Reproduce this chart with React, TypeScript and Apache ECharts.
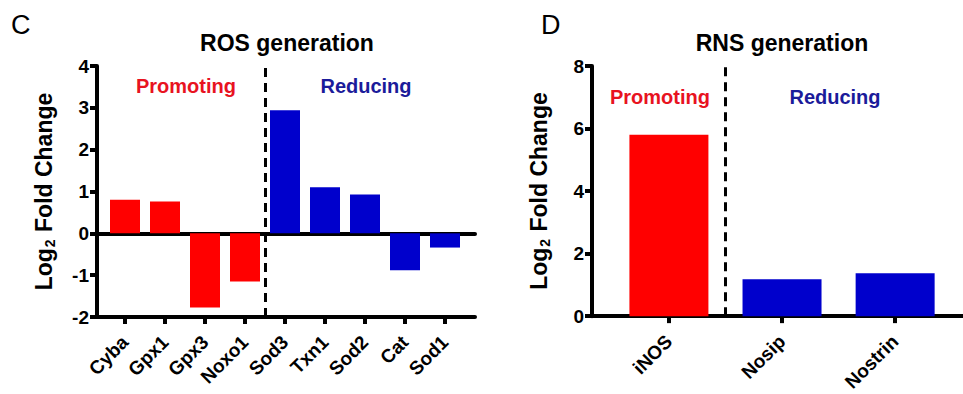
import React, { useEffect, useRef } from "react";
import * as echarts from "echarts";

const rosGenes = ["Cyba", "Gpx1", "Gpx3", "Noxo1", "Sod3", "Txn1", "Sod2", "Cat", "Sod1"];
const rosValues = [0.8, 0.76, -1.77, -1.15, 2.94, 1.1, 0.93, -0.88, -0.34];
const rosGroups = ["P", "P", "P", "P", "R", "R", "R", "R", "R"];

const rnsGenes = ["iNOS", "Nosip", "Nostrin"];
const rnsValues = [5.8, 1.18, 1.37];
const rnsGroups = ["P", "R", "R"];

const RED = "#ff0000";
const BLUE = "#0000cc";
const TXT_RED = "#e8131f";
const TXT_BLUE = "#1b1b9a";
const FONT = "Liberation Sans, Arial, sans-serif";

export default function App() {
  const ref = useRef<HTMLDivElement>(null);
  useEffect(() => {
    document.body.style.margin = "0";
    const chart = echarts.init(ref.current!, null, { renderer: "svg" });
    const lbl = { fontFamily: FONT, fontWeight: "bold" as const, color: "#000" };
    const yName = {
      name: "{a|Log}{b|2}{a| Fold Change}",
      nameLocation: "middle" as const,
      nameGap: 40,
      nameTextStyle: {
        rich: {
          a: { fontFamily: FONT, fontWeight: "bold", fontSize: 23, color: "#000", lineHeight: 26 },
          b: { fontFamily: FONT, fontWeight: "bold", fontSize: 14, color: "#000", verticalAlign: "bottom", lineHeight: 26, padding: [0, 1, 0, 1] },
        },
      },
    };
    const lineStyle = { color: "#000", width: 4 };
    const axisTick = { show: true, length: 7, lineStyle: { color: "#000", width: 4 } };
    const dashed = (x: number) => ({
      symbol: "none",
      silent: true,
      label: { show: false },
      lineStyle: { color: "#000", width: 3, type: [9, 6] },
      data: [{ xAxis: x }],
    });
    chart.setOption({
      animation: false,
      grid: [
        { left: 97, top: 66, width: 378, height: 251 },
        { left: 592, top: 66, width: 371, height: 251 },
      ],
      xAxis: [
        {
          gridIndex: 0, type: "value", min: -0.7, max: 8.75, position: "bottom",
          axisLine: { show: true, lineStyle, onZero: false },
          axisTick: { ...axisTick, customValues: rosGenes.map((_, i) => i) },
          axisLabel: { ...lbl, fontSize: 19, rotate: 45, margin: 22, customValues: rosGenes.map((_, i) => i), formatter: (v: number) => rosGenes[Math.round(v)] ?? "" },
          splitLine: { show: false },
        },
        {
          gridIndex: 0, type: "value", min: -0.7, max: 8.75, position: "top",
          axisLine: { show: true, lineStyle, onZero: true },
          axisTick: { show: false }, axisLabel: { show: false }, splitLine: { show: false },
        },
        {
          gridIndex: 1, type: "value", min: -0.68, max: 2.6, position: "bottom",
          axisLine: { show: true, lineStyle, onZero: false },
          axisTick: { ...axisTick, customValues: rnsGenes.map((_, i) => i) },
          axisLabel: { ...lbl, fontSize: 19, rotate: 45, margin: 22, customValues: rnsGenes.map((_, i) => i), formatter: (v: number) => rnsGenes[Math.round(v)] ?? "" },
          splitLine: { show: false },
        },
      ],
      yAxis: [
        {
          gridIndex: 0, type: "value", min: -2, max: 4, interval: 1, position: "left",
          axisLine: { show: true, lineStyle, onZero: false }, axisTick, splitLine: { show: false },
          axisLabel: { ...lbl, fontSize: 19, margin: 8 },
          ...yName,
        },
        {
          gridIndex: 1, type: "value", min: 0, max: 8, interval: 2, position: "left",
          axisLine: { show: true, lineStyle, onZero: false }, axisTick, splitLine: { show: false },
          axisLabel: { ...lbl, fontSize: 19, margin: 8 },
          ...yName,
        },
      ],
      series: [
        {
          type: "bar", xAxisIndex: 0, yAxisIndex: 0, barWidth: 30,
          data: rosValues.map((v, i) => ({ value: [i, v], itemStyle: { color: rosGroups[i] === "P" ? RED : BLUE } })),
          markLine: dashed(3.5),
        },
        {
          type: "bar", xAxisIndex: 2, yAxisIndex: 1, barWidth: 79,
          data: rnsValues.map((v, i) => ({ value: [i, v], itemStyle: { color: rnsGroups[i] === "P" ? RED : BLUE } })),
          markLine: dashed(0.5),
        },
      ],
      graphic: [
        { type: "text", left: 11, top: 11, style: { text: "C", font: `normal 27px ${FONT}`, fill: "#000" } },
        { type: "text", left: 541, top: 11, style: { text: "D", font: `normal 27px ${FONT}`, fill: "#000" } },
        { type: "text", x: 287, y: 43, style: { text: "ROS generation", font: `bold 23px ${FONT}`, fill: "#000", textAlign: "center", textVerticalAlign: "middle" } },
        { type: "text", x: 782, y: 43, style: { text: "RNS generation", font: `bold 23px ${FONT}`, fill: "#000", textAlign: "center", textVerticalAlign: "middle" } },
        { type: "text", x: 186, y: 86, style: { text: "Promoting", font: `bold 20px ${FONT}`, fill: TXT_RED, textAlign: "center", textVerticalAlign: "middle" } },
        { type: "text", x: 366, y: 86, style: { text: "Reducing", font: `bold 20px ${FONT}`, fill: TXT_BLUE, textAlign: "center", textVerticalAlign: "middle" } },
        { type: "text", x: 660, y: 97, style: { text: "Promoting", font: `bold 20px ${FONT}`, fill: TXT_RED, textAlign: "center", textVerticalAlign: "middle" } },
        { type: "text", x: 835, y: 97, style: { text: "Reducing", font: `bold 20px ${FONT}`, fill: TXT_BLUE, textAlign: "center", textVerticalAlign: "middle" } },
      ],
    });
    return () => chart.dispose();
  }, []);
  return <div ref={ref} style={{ width: 963, height: 394 }} />;
}
